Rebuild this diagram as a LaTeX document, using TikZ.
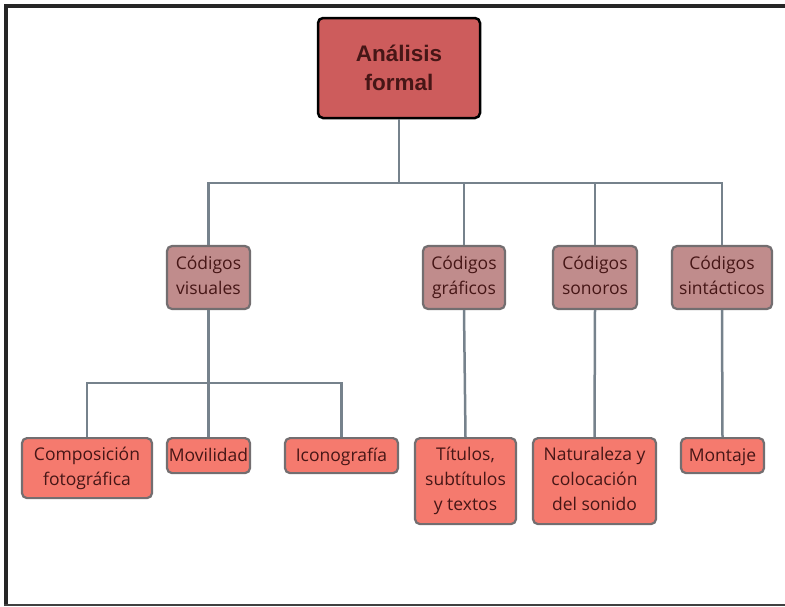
\documentclass[tikz,border=0pt]{standalone}
\usepackage{fontspec}
\setmainfont{Open Sans}
\newfontfamily\rootfont{Liberation Sans}
\definecolor{rootfill}{RGB}{205,92,92}
\definecolor{midfill}{RGB}{192,140,140}
\definecolor{leaffill}{RGB}{245,122,110}
\definecolor{boxline}{RGB}{115,110,112}
\definecolor{linkcol}{RGB}{118,130,140}
\definecolor{txtcol}{RGB}{70,22,22}
\tikzset{
  rootbox/.style={draw=black, line width=2.5pt, fill=rootfill, rounded corners=5pt,
    minimum width=162pt, minimum height=100pt, align=center, text=txtcol,
    font=\rootfont\bfseries\fontsize{22.5}{29}\selectfont},
  midbox/.style={draw=boxline, line width=2.2pt, fill=midfill, rounded corners=5pt,
    minimum height=63pt, align=center, text=txtcol, inner sep=1pt,
    execute at begin node=\vphantom{Ó}, execute at end node=\vphantom{g},
    font=\fontsize{17.5}{24.5}\selectfont},
  leafbox/.style={draw=boxline, line width=2.2pt, fill=leaffill, rounded corners=5pt,
    align=center, text=txtcol, inner sep=1pt, anchor=north,
    execute at begin node=\vphantom{Ó}, execute at end node=\vphantom{g},
    font=\fontsize{17.5}{25}\selectfont},
  link/.style={draw=linkcol, line width=2.5pt}
}
\begin{document}
\begin{tikzpicture}[x=1pt, y=-1pt]
    \useasboundingbox (0,0) rectangle (785,606);
    % Frame
    \draw[line width=4pt, black!85] (785,6) -- (6,6) -- (6,606);
    \draw[line width=2pt, black!75] (4,604.5) -- (785,604.5);

    % Root
    \node[rootbox] (root) at (399,68) {Análisis\\formal};

    % Codes
    \node[midbox, minimum width=83pt] (vis) at (208.5,277.5) {Códigos\\visuales};
    \node[midbox, minimum width=82pt] (gra) at (464,277.5) {Códigos\\gráficos};
    \node[midbox, minimum width=84pt] (son) at (595,277.5) {Códigos\\sonoros};
    \node[midbox, minimum width=100pt] (sin) at (722,277.5) {Códigos\\sintácticos};

    % Leaves
    \node[leafbox, minimum width=130pt, minimum height=60pt] (com) at (87,437) {Composición\\fotográfica};
    \node[leafbox, minimum width=83pt, minimum height=35pt] (mov) at (208.5,437) {Movilidad};
    \node[leafbox, minimum width=113pt, minimum height=35pt] (ico) at (341.5,437) {Iconografía};
    \node[leafbox, minimum width=101pt, minimum height=86pt] (tit) at (465.5,437) {Títulos,\\subtítulos\\y textos};
    \node[leafbox, minimum width=123pt, minimum height=86pt] (nat) at (594.5,437) {Naturaleza y\\colocación\\del sonido};
    \node[leafbox, minimum width=83pt, minimum height=35pt] (mon) at (722.5,437) {Montaje};

    % Connectors
    \coordinate (rbar) at (399,183);
    \coordinate (vbar) at (208.5,383);
    \foreach \c in {vis,gra,son,sin}
      \draw[link] (root.south) -- (rbar) -| (\c.north);
    \foreach \c in {com,mov,ico}
      \draw[link] (vis.south) -- (vbar) -| (\c.north);
    \draw[link] (gra.south) -- (tit.north);
    \draw[link] (son.south) -- (nat.north);
    \draw[link] (sin.south) -- (mon.north);

\end{tikzpicture}
\end{document}
